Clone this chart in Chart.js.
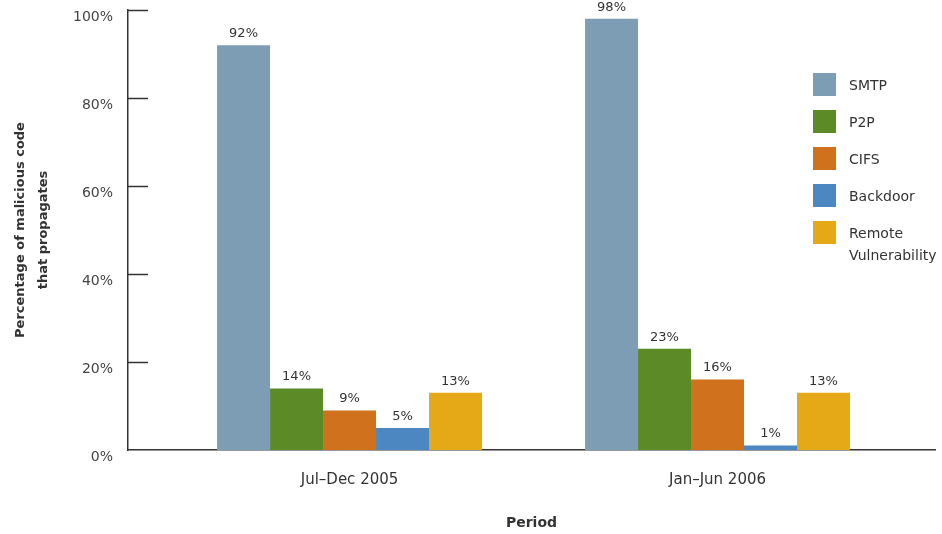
<!DOCTYPE html>
<html>
<head>
<meta charset="utf-8">
<script src="https://cdn.jsdelivr.net/npm/chart.js@4"></script>
<style>
  html, body { margin: 0; padding: 0; background: #fff; }
  #wrap { position: relative; width: 942px; height: 534px; }
  #legend { position: absolute; left: 813px; top: 73px; font-family: "DejaVu Sans", sans-serif; font-size: 14px; color: #333; }
  .item { display: flex; align-items: flex-start; margin-bottom: 14px; }
  .swatch { width: 23px; height: 23px; flex: none; }
  .label { margin-left: 13px; line-height: 22px; padding-top: 1px; width: 95px; }
</style>
</head>
<body>
<div id="wrap">
  <canvas id="chart" width="942" height="534"></canvas>
  <div id="legend"></div>
</div>
<script>
const periods = ["Jul–Dec 2005", "Jan–Jun 2006"];
const seriesNames = ["SMTP", "P2P", "CIFS", "Backdoor", "Remote Vulnerability"];
const smtp = [92, 98];
const p2p = [14, 23];
const cifs = [9, 16];
const backdoor = [5, 1];
const remoteVuln = [13, 13];
const seriesColors = ["#7d9db4", "#5b8a27", "#d0711d", "#4c87c1", "#e5a817"];

const textColor = "#333";
const fontFamily = '"DejaVu Sans", sans-serif';

// bars sit on a linear index scale so the groups land where the original put them
const datasets = [smtp, p2p, cifs, backdoor, remoteVuln].map((values, i) => ({
  label: seriesNames[i],
  data: values.map((v, j) => ({ x: j, y: v })),
  backgroundColor: seriesColors[i],
  borderWidth: 0,
  categoryPercentage: 0.72,
  barPercentage: 1,
}));

const barValueLabels = {
  id: "barValueLabels",
  afterDatasetsDraw(chart) {
    const { ctx } = chart;
    ctx.save();
    ctx.font = `13px ${fontFamily}`;
    ctx.fillStyle = textColor;
    ctx.textAlign = "center";
    ctx.textBaseline = "bottom";
    chart.data.datasets.forEach((ds, i) => {
      chart.getDatasetMeta(i).data.forEach((bar, j) => {
        ctx.fillText(`${ds.data[j].y}%`, bar.x, bar.y - 5);
      });
    });
    ctx.restore();
  },
};

// short tick marks pointing into the plot
const innerTicks = {
  id: "innerTicks",
  afterDraw(chart) {
    const { ctx, chartArea } = chart;
    const yScale = chart.scales.y;
    ctx.save();
    ctx.strokeStyle = textColor;
    ctx.lineWidth = 1.5;
    yScale.ticks.forEach((t) => {
      if (t.value === 0) return;
      const py = Math.round(yScale.getPixelForValue(t.value)) + 0.5;
      ctx.beginPath();
      ctx.moveTo(chartArea.left, py);
      ctx.lineTo(chartArea.left + 20, py);
      ctx.stroke();
    });
    ctx.restore();
  },
};

new Chart(document.getElementById("chart"), {
  type: "bar",
  data: { datasets: datasets },
  plugins: [barValueLabels, innerTicks],
  options: {
    responsive: false,
    animation: false,
    layout: { padding: { top: 10, right: 7, left: 0, bottom: 0 } },
    plugins: {
      legend: { display: false },
      tooltip: { enabled: false },
    },
    scales: {
      x: {
        type: "linear",
        offset: false,
        bounds: "data",
        min: -0.602,
        max: 1.591,
        afterBuildTicks: (scale) => {
          scale.ticks = periods.map((p, i) => ({ value: i }));
        },
        afterFit: (scale) => {
          scale.height = 84;
        },
        grid: { display: false, drawTicks: false, offset: false },
        border: { display: true, color: textColor, width: 1.5 },
        ticks: {
          padding: 21,
          color: textColor,
          font: { family: fontFamily, size: 15 },
          callback: (value) => periods[value],
        },
        title: {
          display: true,
          text: "Period",
          color: textColor,
          font: { family: fontFamily, size: 14, weight: "bold" },
          padding: { top: 0, bottom: 2 },
        },
      },
      y: {
        min: 0,
        max: 100,
        afterFit: (scale) => {
          scale.width = 128;
          scale.paddingTop = 0;
          scale.paddingBottom = 0;
        },
        grid: { display: false, drawTicks: false },
        border: { display: true, color: textColor, width: 1.5 },
        ticks: {
          stepSize: 20,
          padding: 15,
          labelOffset: 7,
          color: "#444",
          font: { family: fontFamily, size: 14 },
          callback: (value) => `${value}%`,
        },
        title: {
          display: true,
          text: ["Percentage of malicious code", "that propagates"],
          color: textColor,
          font: { family: fontFamily, size: 13, weight: "bold", lineHeight: 1.75 },
          padding: { top: 9, bottom: 0 },
        },
      },
    },
  },
});

const legendEl = document.getElementById("legend");
seriesNames.forEach((name, i) => {
  const item = document.createElement("div");
  item.className = "item";
  const swatch = document.createElement("div");
  swatch.className = "swatch";
  swatch.style.background = seriesColors[i];
  const label = document.createElement("div");
  label.className = "label";
  label.textContent = name;
  item.appendChild(swatch);
  item.appendChild(label);
  legendEl.appendChild(item);
});
</script>
</body>
</html>
